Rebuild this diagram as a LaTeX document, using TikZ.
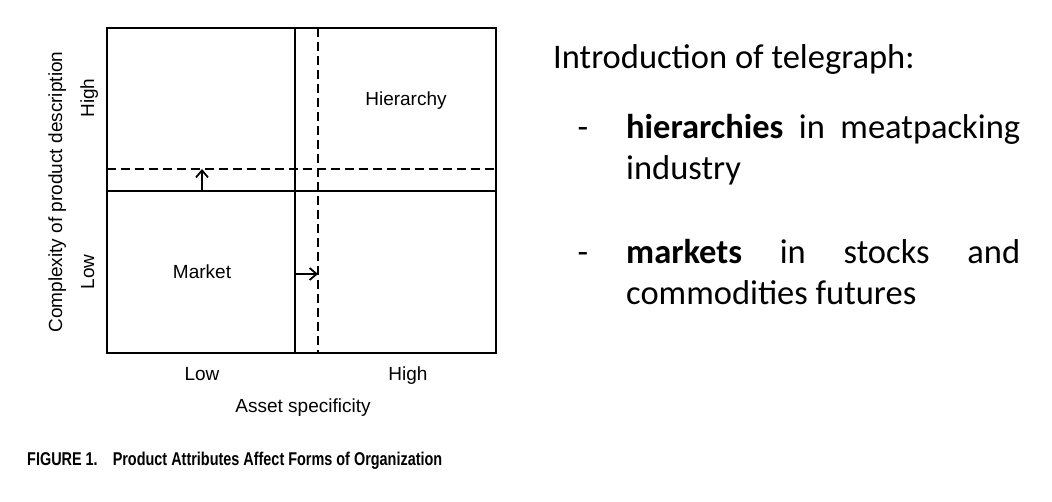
\documentclass[tikz,border=0pt]{standalone}
\usepackage{fontspec}
\setmainfont{Carlito}
\newfontfamily\figfont{Liberation Sans}
\newfontfamily\capfont[FakeStretch=0.78]{Liberation Sans}
\usetikzlibrary{arrows.meta}
\begin{document}
\begin{tikzpicture}[x=1pt, y=-1pt, font=\figfont\fontsize{19}{21}\selectfont,
		frame/.style={line width=1.5pt},
		shifted/.style={line width=1.3pt, dash pattern=on 9pt off 5pt},
		shift_arr/.style={line width=1.5pt, -{Straight Barb[length=7pt,width=12pt,line width=1.8pt]}},
		lbl/.style={anchor=base, inner sep=0pt},
		bullet_txt/.style={font=\fontsize{34.5}{41}\selectfont, text width=394pt, align=justify, inner sep=0pt, anchor=base west}]
		\useasboundingbox (0,0) rectangle (1052,501);
		% box and its quadrants
		\coordinate (tl) at (107,28);
		\coordinate (br) at (496,353);
		\draw[frame] (tl) rectangle (br);
		\draw[frame] (295,28) -- (295,353);
		\draw[frame] (107,191) -- (496,191);
		\draw[shifted] (318,28) -- (318,353);
		\draw[shifted] (107,169) -- (496,169);
		% shifts
		\coordinate (up_from) at (202,191);
		\coordinate (up_to) at (202,169);
		\coordinate (right_from) at (295,274);
		\coordinate (right_to) at (318,274);
		\draw[shift_arr] (up_from) -- (up_to);
		\draw[shift_arr] (right_from) -- (right_to);
		% labels
		\node[lbl] (hier) at (406,105) {Hierarchy};
		\node[lbl] (mark) at (202,278) {Market};
		\node[lbl] (xlow) at (202,380) {Low};
		\node[lbl] (xhigh) at (408,380) {High};
		\node[lbl] (xlab) at (303,412) {Asset specificity};
		\node[lbl, rotate=90] (yhigh) at (94,98) {High};
		\node[lbl, rotate=90] (ylow) at (94,272) {Low};
		\node[lbl, rotate=90] (ylab) at (62,192) {Complexity of product description};
		\node[anchor=base west, inner sep=0pt, font=\capfont\bfseries\fontsize{18.5}{20}\selectfont] (caption) at (27,465)
			{FIGURE 1.\hspace{15pt}Product Attributes Affect Forms of Organization};
		% telegraph text
		\node[anchor=base west, inner sep=0pt, font=\fontsize{34.5}{41}\selectfont] (intro) at (553,68) {Introduction of telegraph:};
		\node[anchor=base, inner sep=0pt, font=\fontsize{34.5}{41}\selectfont] (dash1) at (583,138) {-};
		\node[bullet_txt] (hiers) at (626,138) {\textbf{hierarchies} in meatpacking\linebreak industry};
		\node[anchor=base, inner sep=0pt, font=\fontsize{34.5}{41}\selectfont] (dash2) at (583,263) {-};
		\node[bullet_txt] (marks) at (626,263) {\textbf{markets} in stocks and\linebreak commodities futures};
\end{tikzpicture}
\end{document}
